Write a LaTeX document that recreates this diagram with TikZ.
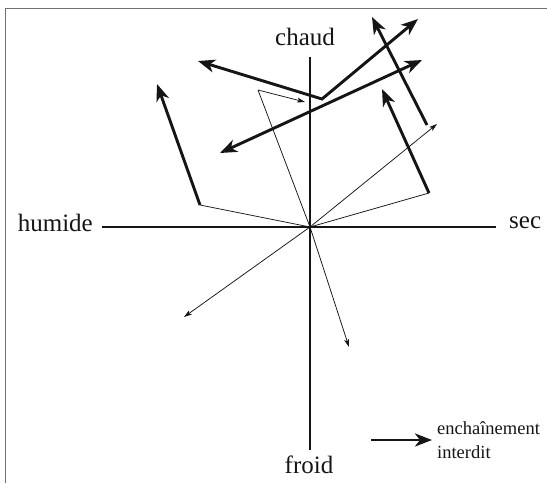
\documentclass[tikz,border=0pt]{standalone}
\usepackage{fontspec}
\setmainfont{Liberation Serif}
\usetikzlibrary{arrows.meta}
\definecolor{ink}{HTML}{151515}
\definecolor{framec}{HTML}{707070}
\tikzset{
  axisline/.style={draw=ink, line width=1.1pt},
  thinline/.style={draw=ink, line width=0.75pt},
  thinarrow/.style={thinline, -{Stealth[length=8pt,width=5pt,inset=2pt]}},
  thickarrow/.style={draw=ink, line width=2.9pt, -{Stealth[length=17pt,width=13pt,inset=5pt]}},
  thickboth/.style={draw=ink, line width=2.9pt, line join=miter, {Stealth[length=17pt,width=13pt,inset=5pt]}-{Stealth[length=17pt,width=13pt,inset=5pt]}},
  biglabel/.style={font=\fontsize{25}{28}\selectfont, text=ink, inner sep=0pt},
  smalllabel/.style={font=\fontsize{18.5}{24}\selectfont, text=ink, inner sep=0pt, align=left}
}
\begin{document}
\begin{tikzpicture}[x=1pt,y=-1pt]
\useasboundingbox (0,0) rectangle (547,483);
% frame
\draw[framec, line width=1pt] (5,483) -- (5,8) -- (547,8);
% axes
\coordinate (O) at (310,227);
\coordinate (axL) at (102,227);
\coordinate (axR) at (496,227);
\coordinate (axT) at (310,57);
\coordinate (axB) at (310,450);
\draw[axisline] (axL) -- (axR);
\draw[axisline] (axT) -- (axB);
% labels
\node[biglabel] (chaud) at (305,37) {chaud};
\node[biglabel, anchor=east] (humide) at (93,223) {humide};
\node[biglabel, anchor=west] (sec) at (509,223) {sec};
\node[biglabel] (froid) at (309,465) {froid};
% thin path coordinates
\coordinate (c1) at (200,205);
\coordinate (t1) at (157,84);
\coordinate (c2) at (429,193);
\coordinate (t2) at (382,89);
\coordinate (t3) at (437,124);
\coordinate (s3) at (427,125);
\coordinate (u3) at (372,17);
\coordinate (c4) at (258,90);
\coordinate (t4) at (305,102);
\coordinate (t5) at (184,317);
\coordinate (t6) at (349,347);
% hub and thick tips
\coordinate (hub) at (322,99);
\coordinate (ta) at (198,61);
\coordinate (tb) at (418,19);
\coordinate (dl) at (220,153);
\coordinate (dr) at (422,60);
% thin connectors
\draw[thinline] (O) -- (c1);
\draw[thinline] (O) -- (c2);
\draw[thinarrow] (O) -- (t3);
\draw[thinline] (O) -- (c4);
\draw[thinarrow] (c4) -- (t4);
\draw[thinarrow] (O) -- (t5);
\draw[thinarrow] (O) -- (t6);
% thick connectors
\draw[thickarrow] (c1) -- (t1);
\draw[thickarrow] (c2) -- (t2);
\draw[thickarrow] (s3) -- (u3);
\draw[thickboth] (ta) -- (hub) -- (tb);
\draw[thickboth] (dl) -- (dr);
% legend
\coordinate (lg1) at (371,440);
\coordinate (lg2) at (432,440);
\draw[thickarrow] (lg1) -- (lg2);
\node[smalllabel, anchor=west] (leg) at (437,440) {enchaînement\\interdit};
\end{tikzpicture}
\end{document}
